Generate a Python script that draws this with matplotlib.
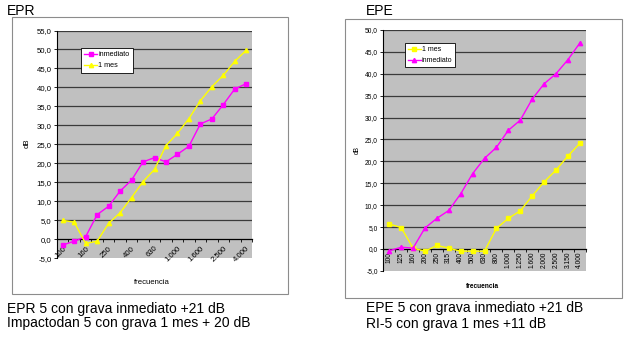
import matplotlib
matplotlib.use("Agg")
import matplotlib.pyplot as plt
from matplotlib.patches import Rectangle
import numpy as np

plt.rcParams['font.family'] = ['Liberation Sans', 'DejaVu Sans']

categories = ["100", "125", "160", "200", "250", "315", "400", "500", "630", "800",
              "1.000", "1.250", "1.600", "2.000", "2.500", "3.150", "4.000"]

# EPR chart
epr_inmediato = [-1.5, -0.5, 0.7, 6.5, 8.7, 12.7, 15.6, 20.4, 21.5, 20.4,
                 22.4, 24.5, 30.4, 31.7, 35.5, 39.6, 41.0]
epr_1mes = [5.0, 4.5, -1.1, -0.5, 4.2, 7.0, 11.0, 15.2, 18.4, 24.7,
            27.9, 31.8, 36.5, 40.2, 43.2, 46.9, 49.8]

# EPE chart
epe_1mes = [5.7, 4.9, 0.2, -0.5, 0.8, 0.2, -0.5, -0.5, -0.5, 4.7,
            7.0, 8.7, 12.1, 15.3, 18.0, 21.2, 24.1]
epe_inmediato = [-0.4, 0.4, 0.2, 4.8, 7.0, 8.8, 12.6, 17.2, 20.7, 23.2,
                 27.1, 29.4, 34.2, 37.7, 40.0, 43.2, 47.0]

MAG = '#FF00FF'
YEL = '#FFFF00'
PLOTBG = '#C0C0C0'
GRID = '#3a3a3a'

fig = plt.figure(figsize=(6.4, 3.4), dpi=100)
fig.patch.set_facecolor('white')

# chart boxes
fig.patches.append(Rectangle((12/640, 1-294/340), 276/640, 277/340, transform=fig.transFigure,
                             facecolor='white', edgecolor='#8c8c8c', lw=0.8, zorder=-10))
fig.patches.append(Rectangle((345/640, 1-298/340), 277/640, 279/340, transform=fig.transFigure,
                             facecolor='white', edgecolor='#8c8c8c', lw=0.8, zorder=-10))

x = np.arange(len(categories))


def style_axes(ax, ymin, ymax, ytick_fs):
    ax.set_facecolor(PLOTBG)
    ax.set_xlim(-0.5, len(categories) - 0.5)
    ax.set_ylim(ymin, ymax)
    yt = np.arange(ymin, ymax + 0.1, 5)
    ax.set_yticks(yt)
    ax.set_yticklabels([f"{v:.1f}".replace('.', ',') for v in yt], fontsize=ytick_fs)
    for v in yt:
        if v > ymin and v != 0 and v < ymax + 0.01:
            ax.axhline(v, color=GRID, lw=0.9, zorder=1)
    for s in ['top', 'right']:
        ax.spines[s].set_visible(False)
    ax.spines['bottom'].set_position(('data', 0))
    ax.spines['bottom'].set_color('black')
    ax.spines['bottom'].set_linewidth(0.9)
    ax.spines['bottom'].set_zorder(2)
    ax.spines['left'].set_color('black')
    ax.spines['left'].set_linewidth(0.8)
    ax.tick_params(axis='y', length=2.5, width=0.6, pad=1.5, colors='black')
    ax.set_xticks(np.arange(-0.5, len(categories), 1.0), minor=True)
    ax.tick_params(axis='x', which='minor', length=2.5, width=0.6, direction='out')
    ax.tick_params(axis='x', which='major', length=0)


def make_legend(ax, anchor, fs):
    leg = ax.legend(loc='upper left', bbox_to_anchor=anchor, fontsize=fs,
                    frameon=True, fancybox=False, edgecolor='black', framealpha=1,
                    handlelength=1.8, borderpad=0.45, labelspacing=0.55,
                    handletextpad=0.15, borderaxespad=0)
    leg.get_frame().set_linewidth(0.6)
    return leg


# ---------- left chart: EPR ----------
axL = fig.add_axes([57/640, 1-258.3/340, 195/640, 227.8/340])
style_axes(axL, -5, 55, 5.6)
axL.plot(x, epr_inmediato, color=MAG, lw=1.0, marker='s', ms=3.1, mfc=MAG, mec=MAG,
         label='inmediato', zorder=3)
axL.plot(x, epr_1mes, color=YEL, lw=1.0, marker='^', ms=3.1, mfc=YEL, mec=YEL,
         label='1 mes', zorder=3)
axL.set_xticks(x[::2])
axL.set_xticklabels(categories[::2], rotation=45, ha='right', rotation_mode='anchor',
                    fontsize=5.6)
axL.tick_params(axis='x', which='major', pad=4)
make_legend(axL, (0.123, 0.923), 5.2)
fig.text(27/640, 1-143/340, 'dB', rotation=90, fontsize=5.6, ha='center', va='center')
fig.text(152/640, 1-282/340, 'frecuencia', fontsize=5.6, ha='center', va='center')

# ---------- right chart: EPE ----------
axR = fig.add_axes([383.3/640, 1-270.9/340, 202.4/640, 240.9/340])
style_axes(axR, -5, 50, 4.8)
axR.plot(x, epe_1mes, color=YEL, lw=1.0, marker='s', ms=3.1, mfc=YEL, mec=YEL,
         label='1 mes', zorder=3)
axR.plot(x, epe_inmediato, color=MAG, lw=1.0, marker='^', ms=3.1, mfc=MAG, mec=MAG,
         label='inmediato', zorder=3)
axR.set_xticks(x)
axR.set_xticklabels(categories, rotation=90, fontsize=4.8, va='top')
axR.tick_params(axis='x', which='major', pad=2)
make_legend(axR, (0.107, 0.946), 5.0)
fig.text(357/640, 1-150/340, 'dB', rotation=90, fontsize=4.8, ha='center', va='center')
fig.text(482/640, 1-286/340, 'frecuencia', fontsize=4.8, ha='center', va='center',
         fontweight='bold')

# ---------- titles and captions ----------
fig.text(7/640, 1-15/340, 'EPR', fontsize=10, ha='left', va='baseline')
fig.text(366/640, 1-15/340, 'EPE', fontsize=10, ha='left', va='baseline')
fig.text(7/640, 1-313.5/340, 'EPR 5 con grava inmediato +21 dB', fontsize=10,
         ha='left', va='baseline')
fig.text(7/640, 1-327.5/340, 'Impactodan 5 con grava 1 mes + 20 dB', fontsize=10,
         ha='left', va='baseline')
fig.text(366.5/640, 1-312/340, 'EPE 5 con grava inmediato +21 dB', fontsize=10,
         ha='left', va='baseline')
fig.text(366.5/640, 1-328/340, 'RI-5 con grava 1 mes +11 dB', fontsize=10,
         ha='left', va='baseline')

fig.savefig('out.png', dpi=100, facecolor='white')
